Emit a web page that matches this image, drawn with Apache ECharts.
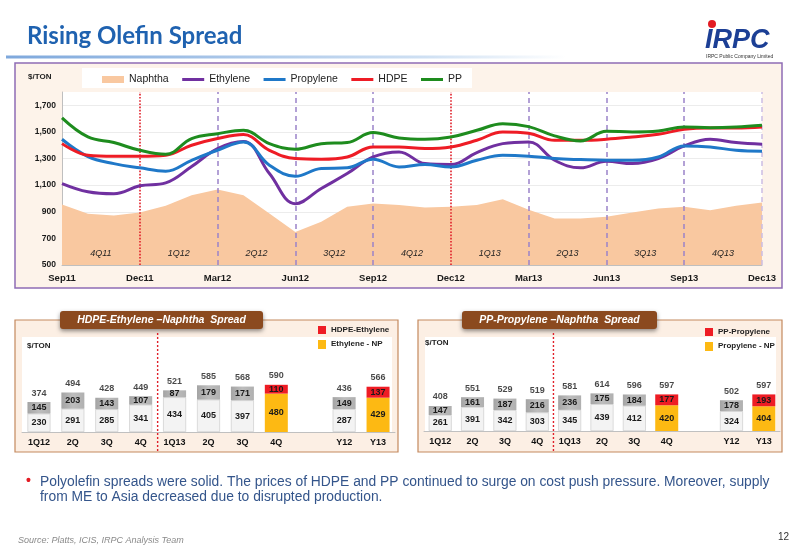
<!DOCTYPE html>
<html><head><meta charset="utf-8">
<script src="https://cdn.jsdelivr.net/npm/echarts@6/dist/echarts.min.js"></script>
<style>html,body{margin:0;padding:0;background:#fff}#c{width:800px;height:554px}</style>
</head><body><div id="c"></div>
<script>
// ---------- data ----------
const months = ['Sep11','Oct11','Nov11','Dec11','Jan12','Feb12','Mar12','Apr12','May12','Jun12','Jul12','Aug12','Sep12','Oct12','Nov12','Dec12','Jan13','Feb13','Mar13','Apr13','May13','Jun13','Jul13','Aug13','Sep13','Oct13','Nov13','Dec13'];
const naphtha   = [955,885,872,895,945,1025,1067,1025,887,748,825,937,962,950,932,937,950,995,915,850,850,862,895,925,937,912,945,970];
const ethylene  = [1112,1050,1035,1095,1117,1240,1375,1428,1187,960,1075,1187,1312,1350,1262,1255,1345,1412,1425,1287,1230,1280,1262,1300,1395,1445,1420,1407];
const propylene = [1445,1315,1262,1230,1205,1287,1362,1425,1250,1167,1225,1230,1295,1237,1255,1237,1287,1325,1318,1300,1292,1287,1287,1312,1395,1387,1362,1355];
const hdpe      = [1412,1325,1317,1317,1325,1400,1450,1480,1362,1300,1295,1312,1387,1387,1375,1387,1437,1500,1490,1437,1437,1445,1462,1482,1520,1530,1530,1537];
const pp        = [1605,1462,1420,1362,1332,1450,1487,1512,1412,1370,1412,1420,1495,1455,1445,1462,1512,1562,1540,1470,1432,1505,1500,1507,1537,1532,1537,1550];
const quarterLabels = ['4Q11','1Q12','2Q12','3Q12','4Q12','1Q13','2Q13','3Q13','4Q13'];
const yTickLabels = [500,700,900,1100,1300,1500,1700];

const barCats = ['1Q12','2Q','3Q','4Q','1Q13','2Q','3Q','4Q','','Y12','Y13'];
const hdpeEthNp  = [230,291,285,341,434,405,397,480,null,287,429];
const hdpeEth    = [145,203,143,107,87,179,171,110,null,149,137];
const hdpeTotal  = [374,494,428,449,521,585,568,590,null,436,566];
const ppPropNp   = [261,391,342,303,345,439,412,420,null,324,404];
const ppProp     = [147,161,187,216,236,175,184,177,null,178,193];
const ppTotal    = [408,551,529,519,581,614,596,597,null,502,597];

// ---------- styles ----------
const F = "'Liberation Sans', Arial, sans-serif";
const C = {naph:'#f9c8a0', eth:'#7030a0', prop:'#1f78c8', hdpe:'#ee1c25', pp:'#1e8c1e'};
const highlightIdx = [7, 10];

const chart = echarts.init(document.getElementById('c'));

function fmtComma(v){ return String(v).replace(/\B(?=(\d{3})+(?!\d))/g, ','); }

function lineSeries(name, data, color, extra){
  return Object.assign({type:'line', name, data, xAxisIndex:0, yAxisIndex:0, smooth:0.4, symbol:'none',
    lineStyle:{width:3, color}, itemStyle:{color}, z:5}, extra||{});
}

const qEnds = months.filter((m,i)=> i%3===0);
const markLineData = qEnds.slice(1).map(m => {
  let ls;
  if (m==='Dec11' || m==='Dec12') ls = {color:'#e0202a', type:'dotted', width:1.6};
  else if (m==='Dec13') ls = {color:'#cbbde3', type:[5,4], width:1.5};
  else ls = {color:'#9b82c9', type:[5,4], width:1.5};
  return {xAxis:m, lineStyle:ls};
});
const markAreaData = quarterLabels.map((q,i)=> [{xAxis:qEnds[i], name:q}, {xAxis:qEnds[i+1]}]);

const greyGrad = new echarts.graphic.LinearGradient(0,0,1,0,[{offset:0,color:'#a4a4a4'},{offset:0.5,color:'#bdbdbd'},{offset:1,color:'#b0b0b0'}]);

function barSet(base, top, total, xi, stackName){
  const lbl = {show:true, position:'inside', fontSize:9, fontWeight:'bold', color:'#1a1a1a', fontFamily:F};
  return [
    {type:'bar', xAxisIndex:xi, yAxisIndex:xi, stack:stackName, barWidth:23, label:lbl,
      data: base.map((v,i)=> v==null?null:{value:v, itemStyle: highlightIdx.includes(i)
        ? {color:'#fdb913'} : {color:'#f3f3f3', borderColor:'#cdcdcd', borderWidth:0.7}})},
    {type:'bar', xAxisIndex:xi, yAxisIndex:xi, stack:stackName, barWidth:23, label:lbl,
      data: top.map((v,i)=> v==null?null:{value:v, itemStyle: highlightIdx.includes(i)
        ? {color:'#ee1c24'} : {color:greyGrad}})},
    {type:'scatter', xAxisIndex:xi, yAxisIndex:xi, data: total, symbolSize:1,
      itemStyle:{color:'rgba(0,0,0,0)'}, z:6,
      label:{show:true, position:'top', distance:4, fontSize:9, fontWeight:'bold', color:'#1a1a1a', fontFamily:F, formatter:p=>p.value}}
  ];
}

function barX(gi){
  return {type:'category', gridIndex:gi, data:barCats, axisLine:{lineStyle:{color:'#c0c0c0'}}, axisTick:{show:false},
    axisLabel:{interval:0, fontSize:9, fontWeight:'bold', color:'#111', margin:6, fontFamily:F}};
}

const txt = (x,y,text,font,fill,align,extra)=>Object.assign({type:'text', x, y, z:50, style:{text, font, fill, align:align||'left', verticalAlign:'middle'}}, extra||{});

function panel(x, w, tabX, tabW, title, leg1, leg2, legX, legY){
  return [
    {type:'rect', z:-5, shape:{x, y:320, width:w, height:132}, style:{fill:'#fcefe4', stroke:'#c4895e', lineWidth:1.2}},
    {type:'rect', z:-4, shape:{x:x+7, y:337, width:w-13, height:95}, style:{fill:'#ffffff'}},
    {type:'rect', z:40, shape:{x:tabX, y:311, width:tabW, height:18, r:3}, style:{fill:'#8b4a1f', shadowBlur:4, shadowColor:'rgba(0,0,0,0.45)', shadowOffsetY:2}},
    txt(tabX+tabW/2, 320.5, title, "italic bold 10.5px "+F, '#ffffff', 'center'),
    {type:'rect', z:40, shape:{x:legX, y:legY-4, width:8, height:8}, style:{fill:'#ee1c24'}},
    {type:'rect', z:40, shape:{x:legX, y:legY+10, width:8, height:9}, style:{fill:'#fdb913'}},
    txt(legX+13, legY, leg1, "bold 8px "+F, '#222'),
    txt(legX+13, legY+14, leg2, "bold 8px "+F, '#222'),
  ];
}

const graphics = [
  txt(27, 36, 'Rising Olefin Spread', "bold 24px Lato, 'Open Sans', sans-serif", '#1f62b0'),
  {type:'rect', z:-5, shape:{x:6, y:55.5, width:560, height:3}, style:{fill:new echarts.graphic.LinearGradient(0,0,1,0,[{offset:0,color:'#7ea8dc'},{offset:0.75,color:'#cfe0f3'},{offset:1,color:'#ffffff'}])}},
  {type:'circle', z:50, shape:{cx:712, cy:24, r:4}, style:{fill:'#e31b23'}},
  txt(705, 41, 'IRPC', "italic 900 27px "+F, '#1c3f95'),
  txt(706, 56.5, 'IRPC Public Company Limited', "5px "+F, '#333'),
  // top panel
  {type:'rect', z:-6, shape:{x:15, y:63, width:767, height:225}, style:{fill:'#fdf3ea', stroke:'#8e6cb5', lineWidth:1.5}},
  {type:'rect', z:-5, shape:{x:62, y:92, width:700, height:173}, style:{fill:'#ffffff'}},
  {type:'rect', z:-4, shape:{x:82, y:68, width:390, height:20}, style:{fill:'#ffffff'}},
  txt(28, 77, '$/TON', "bold 8px "+F, '#222'),
  ...panel(15, 383, 60, 203, 'HDPE-Ethylene –Naphtha  Spread', 'HDPE-Ethylene', 'Ethylene - NP', 318, 330),
  txt(27, 346, '$/TON', "bold 8px "+F, '#222'),
  ...panel(418, 364, 462, 195, 'PP-Propylene –Naphtha  Spread', 'PP-Propylene', 'Propylene - NP', 705, 332),
  txt(425, 343, '$/TON', "bold 8px "+F, '#222'),
  // text
  txt(26, 481, '•', "bold 14px "+F, '#e31b23'),
  txt(40, 482, 'Polyolefin spreads were solid. The prices of HDPE and PP continued to surge on cost push pressure. Moreover, supply', "13.85px "+F, '#34558b'),
  txt(40, 497, 'from ME to Asia decreased due to disrupted production.', "13.85px "+F, '#34558b'),
  txt(18, 540, 'Source: Platts, ICIS, IRPC Analysis Team', "italic 9px "+F, '#8a8a8a'),
  txt(778, 537, '12', "10px "+F, '#333'),
];

const lineLegend = (name, color) => ({name, itemStyle:{opacity:0}, lineStyle:{width:3, color}});

const option = {
  animation:false,
  textStyle:{fontFamily:F},
  grid:[
    {left:62, top:92, width:700, height:173},
    {left:22, top:336, width:373, height:96},
    {left:424, top:336, width:356, height:95}
  ],
  legend:{left:102, top:74, padding:0, itemWidth:22, itemHeight:7, itemGap:12,
    textStyle:{fontSize:10.5, color:'#222', fontFamily:F},
    data:[{name:'Naphtha', icon:'rect', itemStyle:{color:C.naph}},
      lineLegend('Ethylene', C.eth), lineLegend('Propylene', C.prop), lineLegend('HDPE', C.hdpe), lineLegend('PP', C.pp)]},
  xAxis:[
    {type:'category', gridIndex:0, data:months, boundaryGap:false, axisLine:{lineStyle:{color:'#bfbfbf'}}, axisTick:{show:false},
      axisLabel:{interval:2, fontSize:9.5, fontWeight:'bold', color:'#1a1a1a', margin:8, fontFamily:F}},
    barX(1), barX(2)
  ],
  yAxis:[
    {type:'value', gridIndex:0, min:500, max:1800, interval:100,
      axisLine:{show:true, lineStyle:{color:'#bfbfbf'}}, axisTick:{show:false},
      splitLine:{lineStyle:{color:['#ececec','rgba(0,0,0,0)']}},
      axisLabel:{fontSize:8.5, fontWeight:'bold', color:'#1a1a1a', margin:6, fontFamily:F,
        formatter:v=> yTickLabels.includes(v) ? fmtComma(v) : ''}},
    {type:'value', gridIndex:1, min:0, max:1200, show:false},
    {type:'value', gridIndex:2, min:0, max:1550, show:false}
  ],
  series:[
    {type:'line', name:'Naphtha', data:naphtha, xAxisIndex:0, yAxisIndex:0, symbol:'none', z:2,
      lineStyle:{width:0, color:C.naph}, itemStyle:{color:C.naph},
      areaStyle:{color:C.naph, opacity:1, origin:'start'},
      markLine:{silent:true, symbol:'none', label:{show:false}, data:markLineData}},
    lineSeries('Ethylene', ethylene, C.eth),
    lineSeries('Propylene', propylene, C.prop),
    lineSeries('HDPE', hdpe, C.hdpe),
    lineSeries('PP', pp, C.pp, {
      markArea:{silent:true, z:10, itemStyle:{color:'rgba(255,255,255,0)'},
        label:{show:true, position:'insideBottom', distance:7, fontStyle:'italic', fontSize:9, color:'#1f1f1f', opacity:1, fontFamily:F},
        emphasis:{disabled:true},
        data:markAreaData}}),
    ...barSet(hdpeEthNp, hdpeEth, hdpeTotal, 1, 'h'),
    ...barSet(ppPropNp, ppProp, ppTotal, 2, 'p')
  ],
  graphic: graphics
};
chart.setOption(option);

// dotted separators between 4Q12 and 1Q13 in the bar panels
function sepLine(xi){
  const a = chart.convertToPixel({xAxisIndex:xi}, 3);
  const b = chart.convertToPixel({xAxisIndex:xi}, 4);
  const x = (a+b)/2;
  return {type:'line', z:45, shape:{x1:x, y1:333, x2:x, y2:452}, style:{stroke:'#e0202a', lineWidth:1.4, lineDash:[2,2]}};
}
chart.setOption({graphic: graphics.concat([sepLine(1), sepLine(2)])});
</script></body></html>
